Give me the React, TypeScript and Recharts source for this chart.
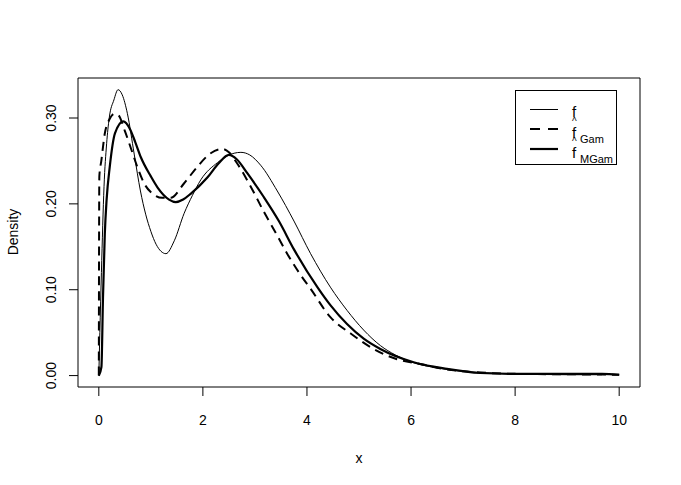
import React from 'react';
import { LineChart, Line, XAxis, YAxis, ReferenceArea } from 'recharts';

// True density f
const fX = [0, 0.02, 0.05, 0.1, 0.15, 0.2, 0.29, 0.37, 0.45, 0.55, 0.68, 0.8, 0.9, 1.0, 1.1, 1.29, 1.45, 1.64, 1.8, 1.96, 2.28, 2.6, 2.73, 2.9, 3.11, 3.43, 3.75, 4.07, 4.45, 4.77, 5.09, 5.41, 5.7, 6.0, 6.5, 7.0, 7.5, 8.0, 9.0, 9.67];
const fY = [0, 0.05, 0.12, 0.22, 0.27, 0.30, 0.321, 0.333, 0.327, 0.305, 0.258, 0.215, 0.188, 0.168, 0.153, 0.142, 0.157, 0.189, 0.21, 0.228, 0.248, 0.259, 0.26, 0.257, 0.245, 0.215, 0.18, 0.142, 0.103, 0.076, 0.053, 0.035, 0.024, 0.016, 0.009, 0.005, 0.003, 0.002, 0.001, 0.001];

// Gamma kernel estimate (dashed)
const gamX = [0, 0.01, 0.05, 0.115, 0.2, 0.3, 0.38, 0.5, 0.61, 0.74, 0.87, 1.03, 1.22, 1.38, 1.64, 1.89, 2.15, 2.37, 2.5, 2.66, 2.92, 3.17, 3.43, 3.62, 3.88, 4.07, 4.45, 4.84, 5.28, 5.73, 6.18, 6.6, 7.0, 7.5, 8.0, 9.0, 10.0];
const gamY = [0, 0.232, 0.251, 0.282, 0.298, 0.305, 0.303, 0.285, 0.266, 0.243, 0.224, 0.212, 0.207, 0.207, 0.224, 0.243, 0.259, 0.264, 0.26, 0.247, 0.22, 0.191, 0.163, 0.142, 0.117, 0.101, 0.068, 0.049, 0.031, 0.019, 0.0136, 0.008, 0.005, 0.003, 0.002, 0.0015, 0.001];

// Modified gamma kernel estimate (thick solid)
const mgamX = [0, 0.05, 0.08, 0.115, 0.15, 0.21, 0.31, 0.47, 0.6, 0.7, 0.81, 1.0, 1.13, 1.35, 1.48, 1.62, 1.77, 2.09, 2.3, 2.5, 2.65, 2.85, 3.17, 3.46, 3.75, 4.2, 4.45, 4.77, 5.09, 5.41, 6.05, 6.69, 7.33, 8.0, 9.67, 10.0];
const mgamY = [0, 0.01, 0.09, 0.165, 0.205, 0.243, 0.282, 0.296, 0.287, 0.272, 0.254, 0.232, 0.219, 0.205, 0.202, 0.205, 0.212, 0.231, 0.247, 0.257, 0.252, 0.236, 0.208, 0.18, 0.147, 0.103, 0.082, 0.06, 0.043, 0.031, 0.0155, 0.0078, 0.003, 0.002, 0.002, 0.001];

const xTicks = [0, 2, 4, 6, 8, 10];
const yTicks = [0, 0.1, 0.2, 0.3];
const yTickLabels = ['0.00', '0.10', '0.20', '0.30'];

const toPts = (xs: number[], ys: number[]) => xs.map((x, i) => ({ x, y: ys[i] }));
const fData = toPts(fX, fY);
const gamData = toPts(gamX, gamY);
const mgamData = toPts(mgamX, mgamY);

const FONT = '"Liberation Sans", Arial, sans-serif';
const FS = 14;

const XTick = (props: any) => {
  const { x, y, payload } = props;
  return (
    <text x={x} y={y + 27} textAnchor="middle" fontFamily={FONT} fontSize={FS} fill="#000">
      {String(payload.value)}
    </text>
  );
};

const YTick = (props: any) => {
  const { x, y, payload } = props;
  const idx = yTicks.indexOf(payload.value);
  const label = idx >= 0 ? yTickLabels[idx] : String(payload.value);
  const cx = x - 16;
  return (
    <text x={cx} y={y} textAnchor="middle" dominantBaseline="central" transform={`rotate(-90, ${cx}, ${y})`} fontFamily={FONT} fontSize={FS} fill="#000">
      {label}
    </text>
  );
};

export default function App() {
  return (
    <div style={{ position: 'absolute', left: 0, top: 0, width: 681, height: 485, background: '#fff' }}>
      <LineChart width={681} height={485} margin={{ top: 78, right: 41, left: 0, bottom: 0 }}>
        <XAxis
          type="number"
          dataKey="x"
          domain={[-0.4, 10.4]}
          ticks={xTicks}
          allowDataOverflow
          axisLine={false}
          tickLine={{ stroke: '#000' }}
          tickSize={9}
          height={98}
          tick={<XTick />}
          interval={0}
        />
        <YAxis
          type="number"
          dataKey="y"
          domain={[-0.0133, 0.3466]}
          ticks={yTicks}
          allowDataOverflow
          axisLine={false}
          tickLine={{ stroke: '#000' }}
          tickSize={9}
          width={78}
          tick={<YTick />}
          interval={0}
        />
        <ReferenceArea x1={-0.4} x2={10.4} y1={-0.0133} y2={0.3466} fill="none" stroke="#000" strokeWidth={1} ifOverflow="visible" />
        <Line data={fData} dataKey="y" type="monotone" stroke="#000" strokeWidth={1} dot={false} isAnimationActive={false} />
        <Line data={gamData} dataKey="y" type="monotone" stroke="#000" strokeWidth={2} strokeDasharray="9 6" dot={false} isAnimationActive={false} />
        <Line data={mgamData} dataKey="y" type="monotone" stroke="#000" strokeWidth={2.2} dot={false} isAnimationActive={false} />
      </LineChart>
      <svg width={681} height={485} style={{ position: 'absolute', left: 0, top: 0, pointerEvents: 'none' }}>
        <text x={359} y={463} textAnchor="middle" fontFamily={FONT} fontSize={FS} fill="#000">x</text>
        <text x={13} y={232} textAnchor="middle" dominantBaseline="central" transform="rotate(-90, 13, 232)" fontFamily={FONT} fontSize={FS} fill="#000">Density</text>
        <rect x={515.5} y={90.5} width={101} height={74} fill="none" stroke="#000" strokeWidth={1} />
        <line x1={530} x2={558} y1={109.5} y2={109.5} stroke="#000" strokeWidth={1} />
        <line x1={530} x2={558} y1={129} y2={129} stroke="#000" strokeWidth={2} strokeDasharray="10 8" />
        <line x1={530} x2={558} y1={149} y2={149} stroke="#000" strokeWidth={2.2} />
        <text x={572} y={117} fontFamily={FONT} fontSize={15} fill="#000">f</text>
        <text x={572} y={125} fontFamily={FONT} fontSize={10} fill="#000">^</text>
        <text x={572} y={138} fontFamily={FONT} fontSize={15} fill="#000">f</text>
        <text x={580} y={143} fontFamily={FONT} fontSize={11} fill="#000">Gam</text>
        <text x={572} y={145} fontFamily={FONT} fontSize={10} fill="#000">^</text>
        <text x={572} y={158} fontFamily={FONT} fontSize={15} fill="#000">f</text>
        <text x={580} y={163} fontFamily={FONT} fontSize={11} fill="#000">MGam</text>
      </svg>
    </div>
  );
}
